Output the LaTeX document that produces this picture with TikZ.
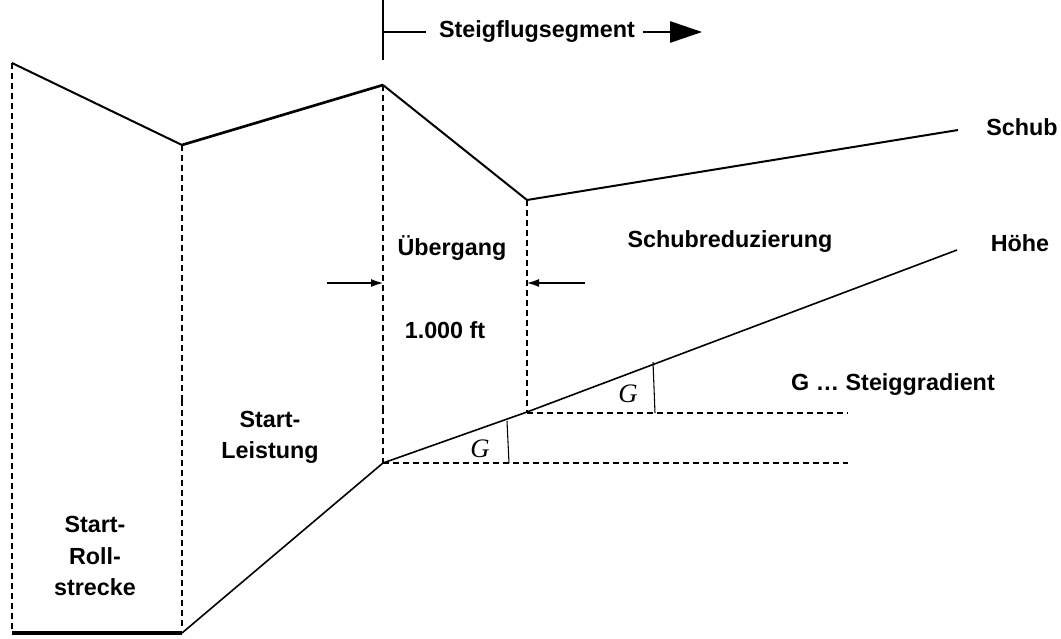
\documentclass[tikz,border=0pt]{standalone}
\usepackage{fontspec}
\setmainfont{Liberation Sans}
\newfontfamily\gserif{Liberation Serif}
\usetikzlibrary{arrows.meta}
\begin{document}
\begin{tikzpicture}[x=0.75pt,y=-0.75pt,
  lbl/.style={font=\fontsize{17.5}{23.3}\selectfont\bfseries, align=center, inner sep=0pt},
  glbl/.style={font=\gserif\itshape\fontsize{20}{22}\selectfont, inner sep=0pt},
  curve/.style={line width=1.5pt, line join=round},
  boldcurve/.style={line width=2pt, line join=round},
  alt/.style={line width=1.2pt, line join=round},
  guide/.style={line width=0.8pt, dash pattern=on 4.5pt off 3pt},
  boldguide/.style={line width=1.9pt, dash pattern=on 4.5pt off 3pt},
  thin/.style={line width=0.8pt},
  dimarrow/.style={line width=0.9pt, -{Latex[length=9pt,width=6pt]}},
  bigarrow/.style={line width=1.2pt, -{Triangle[length=24pt,width=16pt]}}
]
\useasboundingbox (0,0) rectangle (1061,639);
% thrust points
\coordinate (t0) at (12,63);
\coordinate (t1) at (182,145);
\coordinate (t2) at (383,85);
\coordinate (t3) at (527,200);
\coordinate (t4) at (958,130);
% altitude points
\coordinate (a0) at (12,633);
\coordinate (a1) at (182,633);
\coordinate (a2) at (383,463);
\coordinate (a3) at (527,412);
\coordinate (a4) at (957,250);
% guide split points and bottoms
\coordinate (b0) at (12,630);
\coordinate (b1) at (182,630);
\coordinate (m1) at (182,400);
\coordinate (m2) at (383,408);
% horizontal dashed ends
\coordinate (h1) at (848,463);
\coordinate (h2) at (848,413);
\coordinate (h2s) at (527,413);
% G verticals
\coordinate (g1t) at (507,421);
\coordinate (g1b) at (509,463);
\coordinate (g2t) at (653,362);
\coordinate (g2b) at (655,413);
% segment marker
\coordinate (s0) at (383,0);
\coordinate (s1) at (383,60);
\coordinate (s2) at (383,32);
\coordinate (s3) at (426,32);
\coordinate (s4) at (643,32);
\coordinate (s5) at (702,32);
% dimension arrows
\coordinate (d1) at (327,283);
\coordinate (d1e) at (383,283);
\coordinate (d2) at (585,283);
\coordinate (d2e) at (527,283);

% thrust curve
\draw[curve] (t0) -- (t1);
\draw[boldcurve] (t1) -- (t2);
\draw[curve] (t2) -- (t3) -- (t4);
% altitude curve
\draw[line width=3pt] (a0) -- (a1);
\draw[alt] (a1) -- (a2) -- (a3) -- (a4);
% vertical guides
\draw[guide] (t0) -- (b0);
\draw[boldguide] (t1) -- (m1);
\draw[guide] (m1) -- (b1);
\draw[guide] (t2) -- (m2);
\draw[boldguide] (m2) -- (a2);
\draw[guide] (t3) -- (a3);
% horizontal guides
\draw[guide] (a2) -- (h1);
\draw[guide] (h2s) -- (h2);
% G verticals
\draw[thin] (g1t) -- (g1b);
\draw[thin] (g2t) -- (g2b);
\node[glbl] (G1) at (480,449) {G};
\node[glbl] (G2) at (628,394) {G};
% segment marker
\draw[line width=1pt] (s0) -- (s1);
\draw[line width=1.2pt] (s2) -- (s3);
\draw[bigarrow] (s4) -- (s5);
% dimension arrows
\draw[dimarrow] (d1) -- (d1e);
\draw[dimarrow] (d2) -- (d2e);
% labels
\node[lbl] (seg) at (537,32) {Steigflugsegment};
\node[lbl] (schub) at (1022,127) {Schub};
\node[lbl] (hoehe) at (1020,243) {Höhe};
\node[lbl] (uber) at (452,248) {Übergang};
\node[lbl] (red) at (730,242) {Schubreduzierung};
\node[lbl] (ft) at (445,330) {1.000 ft};
\node[lbl] (gs) at (893,385) {G … Steiggradient};
\node[lbl] (sl) at (270,437) {Start-\\Leistung};
\node[lbl] (sr) at (95,556) {Start-\\Roll-\\strecke};
\end{tikzpicture}
\end{document}
